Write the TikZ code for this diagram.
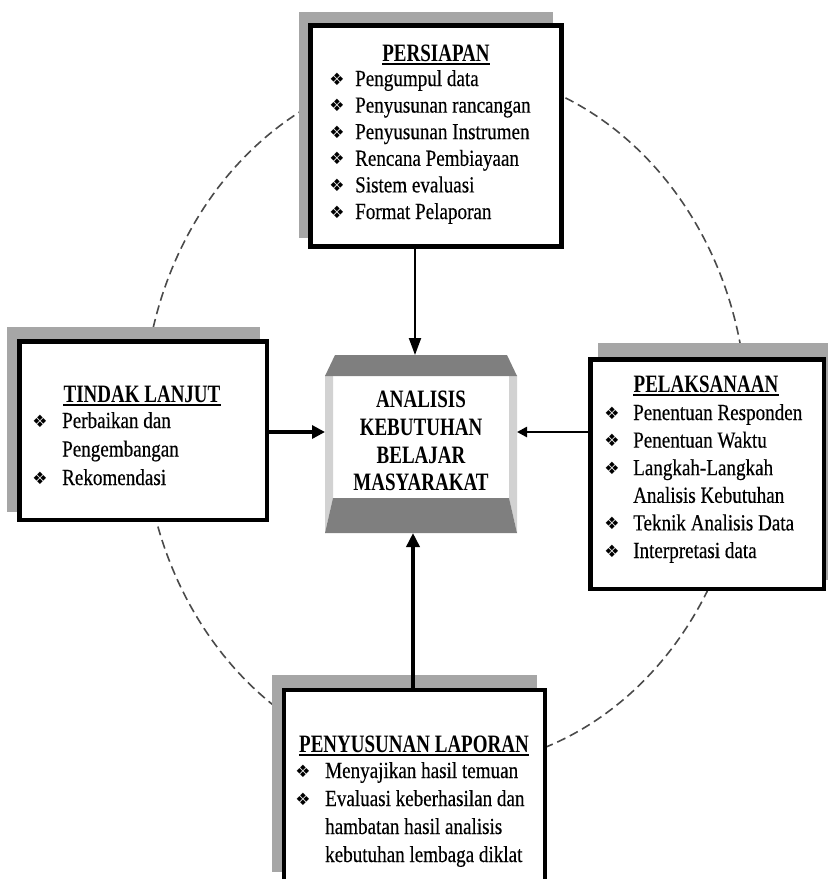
\documentclass[tikz,border=0pt]{standalone}
\usepackage{fontspec}
\setmainfont{Liberation Serif}[FakeStretch=0.83,FakeBold=0.35]
\newfontfamily\ttlfont{Liberation Serif}[FakeStretch=0.76]
\newfontfamily\dingfont{DejaVu Sans}
\usetikzlibrary{arrows.meta}
\definecolor{shadowgray}{HTML}{A6A6A6}
\definecolor{darkface}{HTML}{7F7F7F}
\definecolor{lightface}{HTML}{D2D2D2}
\definecolor{dashgray}{HTML}{4A4A4A}
\newcommand{\bulsym}{❖}
\begin{document}
\begin{tikzpicture}[x=1pt,y=-1pt,
  box/.style={draw=black, fill=white, inner sep=0pt},
  shadowbox/.style={fill=shadowgray},
  itm/.style={anchor=base west, inner sep=0pt, font=\fontsize{23}{27}\selectfont},
  bul/.style={anchor=base, inner sep=0pt, font=\dingfont\fontsize{17}{17}\selectfont, yshift=1pt},
  ttl/.style={anchor=base, inner sep=0pt, font=\ttlfont\bfseries\fontsize{25}{27}\selectfont},
  ctr/.style={anchor=base, inner sep=0pt, font=\ttlfont\bfseries\fontsize{25}{27}\selectfont},
  cycleline/.style={draw=dashgray, line width=1.6pt, dash pattern=on 9pt off 5pt},
  ulinestyle/.style={line width=1.6pt},
]
\useasboundingbox (0,0) rectangle (828,879);

% dashed cycle
\draw[cycleline] (445,418) ellipse [x radius=302pt, y radius=349pt];

% shadows
\fill[shadowbox] (299,12) rectangle (553,238);
\fill[shadowbox] (7,327) rectangle (260,512);
\fill[shadowbox] (598,343) rectangle (830,580);
\fill[shadowbox] (272,675) rectangle (537,872);

% boxes
\node[box, line width=5pt, outer sep=2.5pt, minimum width=251pt, minimum height=221pt] (T) at (436,136) {};
\node[box, line width=4.5pt, outer sep=2.25pt, minimum width=247.5pt, minimum height=178.5pt] (L) at (143,430.5) {};
\node[box, line width=4.5pt, outer sep=2.25pt, minimum width=233.5pt, minimum height=229.5pt] (R) at (707,474) {};
\node[box, line width=4pt, outer sep=2pt, minimum width=261pt, minimum height=198pt] (B) at (414.5,789) {};

% center bevel box
\node[inner sep=0pt, outer sep=0pt, minimum width=192pt, minimum height=178pt] (C) at (421,444) {};
\fill[lightface] (325,375) -- (333,375) -- (333,498) -- (325,533) -- cycle;
\fill[lightface] (517,375) -- (509,375) -- (509,498) -- (517,533) -- cycle;
\fill[darkface] (335,355) -- (507,355) -- (517,376) -- (325,376) -- cycle;
\fill[darkface] (333,498) -- (509,498) -- (517,533) -- (325,533) -- cycle;
\node[ctr] (c1) at (421,407) {ANALISIS};
\node[ctr] (c2) at (421,435) {KEBUTUHAN};
\node[ctr] (c3) at (421,463) {BELAJAR};
\node[ctr] (c4) at (421,490) {MASYARAKAT};

% titles
\node[ttl] (Tt) at (436,61) {PERSIAPAN};
\node[ttl] (Lt) at (142,402) {TINDAK LANJUT};
\node[ttl] (Rt) at (706,392) {PELAKSANAAN};
\node[ttl] (Bt) at (414,752) {PENYUSUNAN LAPORAN};
\foreach \n in {Tt,Lt,Rt,Bt}
  \draw[ulinestyle] ([yshift=-3pt]\n.base west) -- ([yshift=-3pt]\n.base east);

% top items
\foreach \t [count=\i] in {Pengumpul data, Penyusunan rancangan, Penyusunan Instrumen, Rencana Pembiayaan, Sistem evaluasi, Format Pelaporan}{
  \node[itm] (Ti\i) at (355,{86+26.6*(\i-1)}) {\t};
  \node[bul] (Tb\i) at (337,{86+26.6*(\i-1)}) {\bulsym};
}

% left items
\node[bul] (Lb1) at (40,428) {\bulsym};
\node[itm] (Li1) at (62,428) {Perbaikan dan};
\node[itm] (Li2) at (62,456.5) {Pengembangan};
\node[bul] (Lb3) at (40,485) {\bulsym};
\node[itm] (Li3) at (62,485) {Rekomendasi};

% right items
\node[bul] (Rb1) at (612,420) {\bulsym};
\node[itm] (Ri1) at (633,420) {Penentuan Responden};
\node[bul] (Rb2) at (612,447.6) {\bulsym};
\node[itm] (Ri2) at (633,447.6) {Penentuan Waktu};
\node[bul] (Rb3) at (612,475.2) {\bulsym};
\node[itm] (Ri3) at (633,475.2) {Langkah-Langkah};
\node[itm] (Ri4) at (633,502.8) {Analisis Kebutuhan};
\node[bul] (Rb5) at (612,530.4) {\bulsym};
\node[itm] (Ri5) at (633,530.4) {Teknik Analisis Data};
\node[bul] (Rb6) at (612,558) {\bulsym};
\node[itm] (Ri6) at (633,558) {Interpretasi data};

% bottom items
\node[bul] (Bb1) at (303,778) {\bulsym};
\node[itm] (Bi1) at (325,778) {Menyajikan hasil temuan};
\node[bul] (Bb2) at (303,806) {\bulsym};
\node[itm] (Bi2) at (325,806) {Evaluasi keberhasilan dan};
\node[itm] (Bi3) at (325,834) {hambatan hasil analisis};
\node[itm] (Bi4) at (325,862) {kebutuhan lembaga diklat};

% arrows
\coordinate (vx) at (415,0);
\coordinate (bx) at (413,0);
\coordinate (hy) at (0,432);
\draw[line width=2pt, -{Triangle[length=17pt,width=12pt]}] (T.south -| vx) -- (C.north -| vx);
\draw[line width=4.5pt, -{Triangle[length=13pt,width=13pt]}] (L.east |- hy) -- (C.west |- hy);
\draw[line width=2.5pt, -{Triangle[length=10pt,width=10pt]}] (R.west |- hy) -- (C.east |- hy);
\draw[line width=4.5pt, -{Triangle[length=14pt,width=13pt]}] (B.north -| bx) -- (C.south -| bx);
\end{tikzpicture}
\end{document}
